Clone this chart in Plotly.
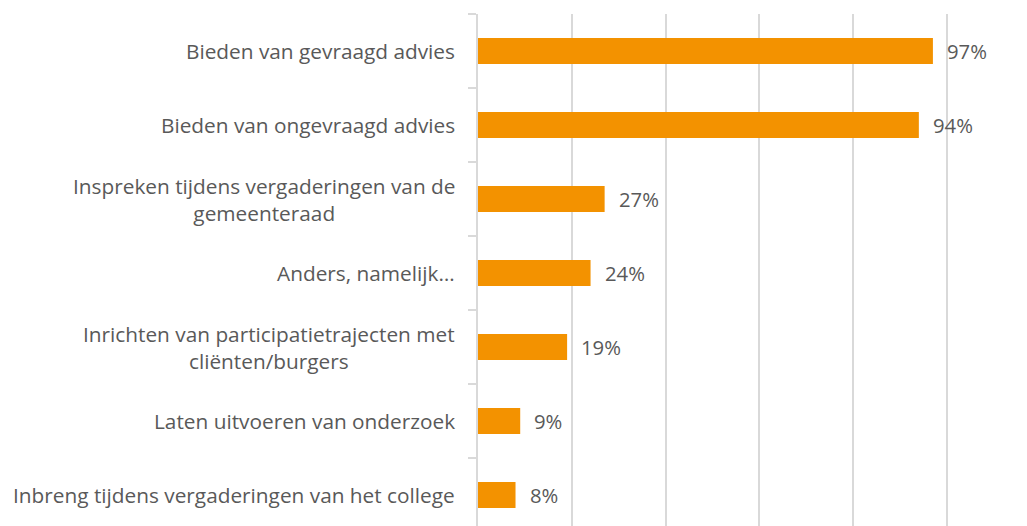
import plotly.graph_objects as go

categories = [
    "Bieden van gevraagd advies",
    "Bieden van ongevraagd advies",
    "Inspreken tijdens vergaderingen van de<br>gemeenteraad",
    "Anders, namelijk…",
    "Inrichten van participatietrajecten met<br>cliënten/burgers",
    "Laten uitvoeren van onderzoek",
    "Inbreng tijdens vergaderingen van het college",
]
values = [0.97, 0.94, 0.27, 0.24, 0.19, 0.09, 0.08]
value_labels = ["97%", "94%", "27%", "24%", "19%", "9%", "8%"]

BAR = "#F39200"
TXT = "#595959"
GRID = "#d9d9d9"
FONT = "Open Sans"

fig = go.Figure()
fig.add_trace(go.Bar(
    x=values, y=categories, orientation="h",
    marker=dict(color=BAR, line=dict(width=0)),
    width=0.35, hoverinfo="skip",
))

for c, v, t in zip(categories, values, value_labels):
    fig.add_annotation(x=v, y=c, xref="x", yref="y", text=t, showarrow=False,
                       xanchor="left", xshift=12,
                       font=dict(family=FONT, size=20.3, color=TXT))
    fig.add_annotation(x=0, y=c, xref="paper", yref="y", text=c, showarrow=False,
                       xanchor="right", xshift=-21, align="center",
                       font=dict(family=FONT, size=20.8, color=TXT))

fig.update_layout(
    width=1019, height=518,
    margin=dict(l=470, r=0, t=6, b=0),
    paper_bgcolor="white", plot_bgcolor="white",
    showlegend=False,
    xaxis=dict(range=[0, 1.1706], dtick=0.2, showgrid=True, gridcolor=GRID, gridwidth=2,
               showticklabels=False, zeroline=False, showline=False, ticks=""),
    yaxis=dict(range=[-0.5 + 512 / 74, -0.5], type="category", tickson="boundaries",
               ticks="outside", ticklen=8, tickcolor=GRID, tickwidth=2,
               showticklabels=False, showgrid=False, showline=True, linecolor=GRID,
               linewidth=2, zeroline=False),
)

fig.write_html("out.html")
